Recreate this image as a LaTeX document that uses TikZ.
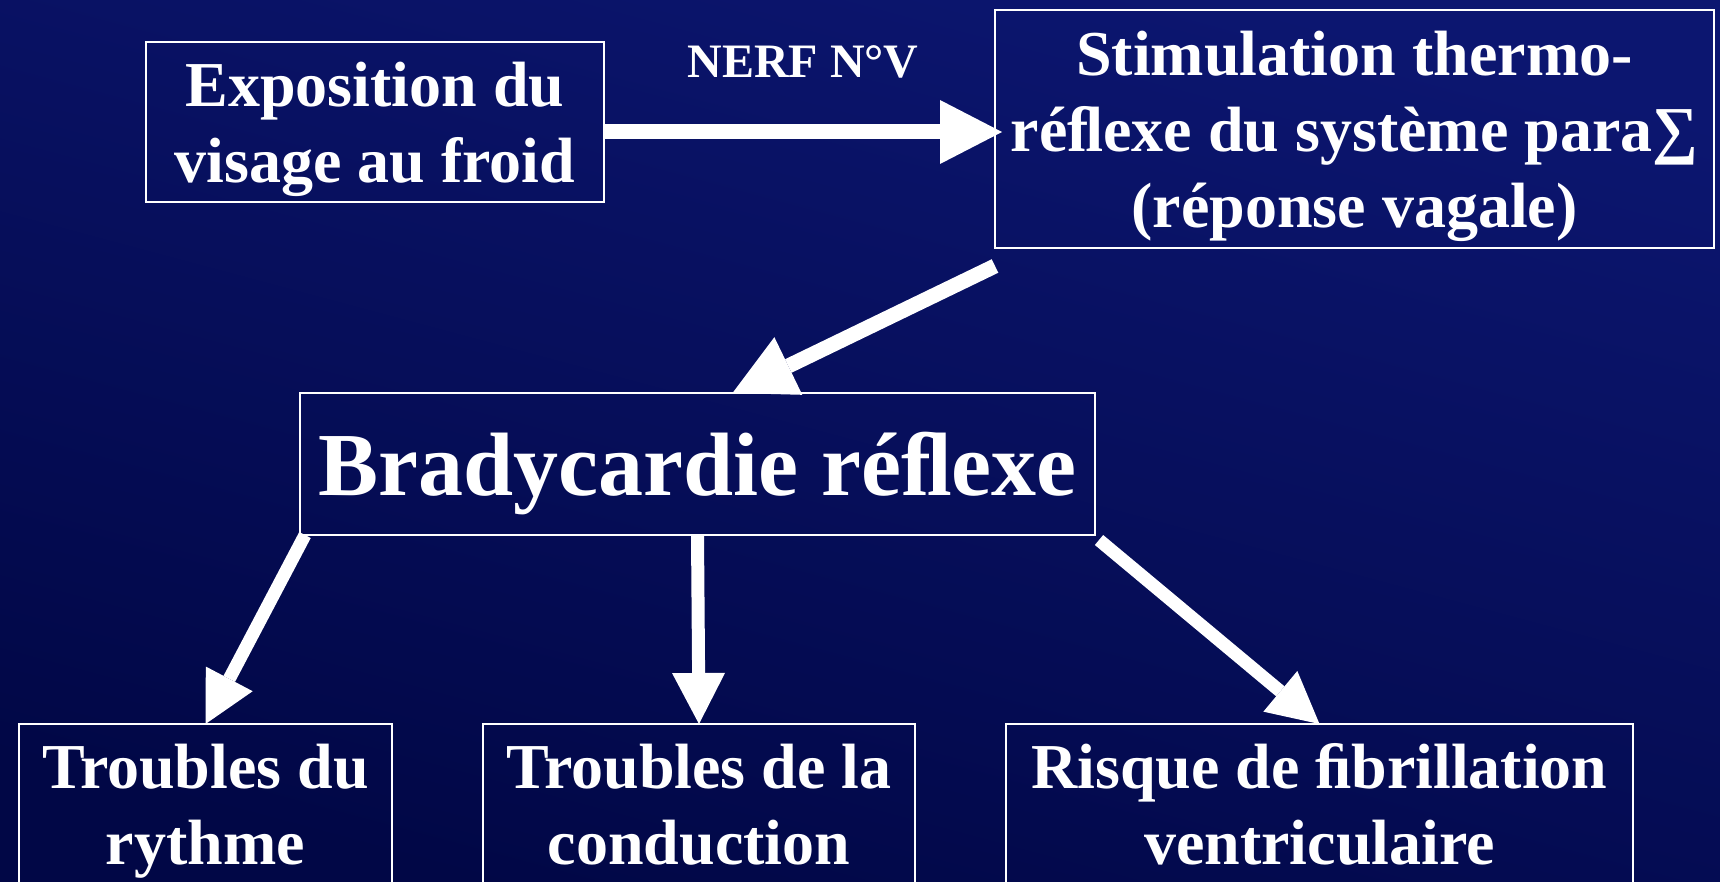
\documentclass[tikz,border=0pt]{standalone}
\usepackage{fontspec}
\setmainfont{Liberation Serif}
\usepackage{xcolor}
\definecolor{cBgTop}{RGB}{12,22,112}
\definecolor{cBgBot}{RGB}{1,7,70}
\usepackage{tikz}
\usetikzlibrary{positioning,arrows.meta,calc}
\newcommand{\upstrut}{\rule{0pt}{0.95em}}
\newcommand{\dnstrut}{\rule[-0.25em]{0pt}{0.25em}}
\tikzset{
  node-box/.style={draw=white,line width=1pt,inner sep=0pt,outer sep=0pt,
    anchor=north west,align=center,text=white,
    font=\fontsize{32}{38}\selectfont\bfseries},
  node-big/.style={font=\fontsize{45}{52}\selectfont\bfseries},
  node-label/.style={text=white,inner sep=0pt,
    font=\fontsize{24}{28}\selectfont\bfseries},
  arrow-big/.style={-{Triangle[length=31pt,width=32pt,line width=0pt]},
    line width=7.5pt,draw=white},
  arrow/.style={-{Triangle[length=25.5pt,width=26.5pt,line width=0pt]},
    line width=6.5pt,draw=white},
}

\begin{document}
\begin{tikzpicture}[x=0.5pt,y=-0.5pt]
  \useasboundingbox (0,0) rectangle (1720,882);
  \clip (0,0) rectangle (1720,882);
  \shade[top color=cBgTop,bottom color=cBgBot,shading angle=-15]
    (0,0) rectangle (1720,882);

  % boxes
  \node[node-box,minimum width=229pt,minimum height=80pt] (expo) at (146,42)
    {\upstrut Exposition du\\visage au froid\dnstrut};
  \node[node-box,minimum width=359.5pt,minimum height=119pt] (stim) at (995,10)
    {\upstrut Stimulation thermo-\\réﬂexe du système para∑\\(réponse vagale)\dnstrut};
  \node[node-box,node-big,minimum width=397.5pt,minimum height=71pt] (brady) at (300,393)
    {\upstrut Bradycardie réﬂexe\dnstrut};
  \node[node-box,minimum width=186.5pt,minimum height=80pt] (rythme) at (19,724)
    {\upstrut Troubles du\\rythme\dnstrut};
  \node[node-box,minimum width=216pt,minimum height=80pt] (conduc) at (483,724)
    {\upstrut Troubles de la\\conduction\dnstrut};
  \node[node-box,minimum width=313.5pt,minimum height=80pt] (fibril) at (1006,724)
    {\upstrut Risque de ﬁbrillation\\ventriculaire\dnstrut};

  % arrows
  \coordinate (nerfstart) at ($(expo.east)+(0,10)$);
  \draw[arrow-big] (nerfstart) -- node[node-label,above=23pt] (nerf) {NERF N°V}
    ($(nerfstart -| stim.west)+(7,0)$);
  \draw[arrow-big] ($(stim.south west)+(0,18)$) -- ($(brady.north)+(35,0)$);
  \draw[arrow] ($(brady.south west)+(5,0)$) -- (rythme.north);
  \draw[arrow] (brady.south) -- (conduc.north);
  \draw[arrow] ($(brady.south east)+(4,5)$) -- (fibril.north);
\end{tikzpicture}
\end{document}
